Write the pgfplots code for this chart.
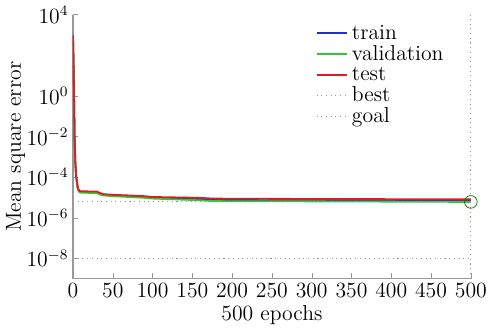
\documentclass[border=0pt]{standalone}
\usepackage{pgfplots}
\pgfplotsset{compat=1.18}
\definecolor{trainc}{rgb}{0.12,0.18,0.85}
\definecolor{valc}{rgb}{0.2,0.78,0.2}
\definecolor{testc}{rgb}{0.85,0.12,0.12}
\definecolor{dotc}{rgb}{0.6,0.6,0.6}
\begin{document}
\begin{tikzpicture}
\begin{axis}[
  scale only axis,
  width=220pt, height=146pt,
  ymode=log,
  xmin=0, xmax=500, ymin=1e-9, ymax=1e4,
  axis x line*=bottom, axis y line*=left,
  axis line style={gray!80, line width=0.8pt, -},
  tick style={gray!80},
  tick align=inside,
  major tick length=3pt,
  xtick={0,50,...,500},
  ytick={1e4,1,1e-2,1e-4,1e-6,1e-8},
  yticklabels={$10^{4}$,$10^{0}$,$10^{-2}$,$10^{-4}$,$10^{-6}$,$10^{-8}$},
  minor ytick={},
  tick label style={font=\large},
  xticklabel style={inner xsep=0pt, yshift=1pt},
  yticklabel style={xshift=1pt},
  label style={font=\large},
  xlabel={500 epochs},
  ylabel={Mean square error},
  xlabel style={yshift=2.5pt},
  ylabel style={yshift=-6pt},
  legend style={at={(0.955,0.99)}, anchor=north east, draw=none, fill=none,
    row sep=-2pt, font=\large},
  legend cell align=left,
]
\addplot[trainc, line width=1pt] coordinates {
(0,900) (1,9) (2,0.009) (3,4.5e-4) (4,1.1e-4) (5,5.5e-5) (6,2.8e-5) (8,1.95e-5) (10,1.85e-5)
(30,1.8e-5) (33,1.55e-5) (38,1.35e-5) (50,1.25e-5) (70,1.15e-5) (90,1.05e-5) (100,9.6e-6)
(130,9.0e-6) (160,8.3e-6) (175,7.6e-6) (200,7.4e-6) (250,7.3e-6) (300,7.2e-6) (350,7.1e-6)
(400,7.0e-6) (450,6.9e-6) (500,6.8e-6)};
\addlegendentry{train}
\addplot[valc, line width=1pt] coordinates {
(0,800) (1,8) (2,0.008) (3,4e-4) (4,1e-4) (5,5e-5) (6,2.5e-5) (8,1.8e-5) (10,1.7e-5)
(30,1.65e-5) (33,1.45e-5) (38,1.25e-5) (50,1.15e-5) (70,1.05e-5) (90,9.5e-6) (100,8.8e-6)
(130,8.0e-6) (160,7.2e-6) (175,6.6e-6) (200,6.5e-6) (250,6.45e-6) (300,6.4e-6) (350,6.3e-6)
(400,6.2e-6) (450,6.1e-6) (500,6.0e-6)};
\addlegendentry{validation}
\addplot[testc, line width=1pt] coordinates {
(0,1000) (1,10) (2,0.01) (3,5e-4) (4,1.2e-4) (5,6e-5) (6,3e-5) (8,2.1e-5) (10,2e-5)
(30,1.95e-5) (33,1.7e-5) (38,1.45e-5) (50,1.35e-5) (70,1.25e-5) (90,1.15e-5) (100,1.05e-5)
(130,1.0e-5) (160,9.5e-6) (175,8.8e-6) (200,8.6e-6) (250,8.5e-6) (300,8.4e-6) (350,8.3e-6)
(400,8.2e-6) (450,8.1e-6) (500,8.0e-6)};
\addlegendentry{test}
\addplot[dotc, dotted, line width=0.6pt] coordinates {(0,6e-6) (500,6e-6)};
\addlegendentry{best}
\addplot[dotc, dotted, line width=0.6pt] coordinates {(0,1e-8) (500,1e-8)};
\addlegendentry{goal}
\addplot[dotc, dotted, line width=0.6pt, forget plot] coordinates {(500,1e-9) (500,1e4)};
\addplot[only marks, mark=o, mark size=3.5pt, green!45!black, forget plot] coordinates {(500,6e-6)};
\end{axis}
\path (current bounding box.east) ++(4pt,0) coordinate (padR);
\path (padR) -- (padR);
\end{tikzpicture}
\end{document}
